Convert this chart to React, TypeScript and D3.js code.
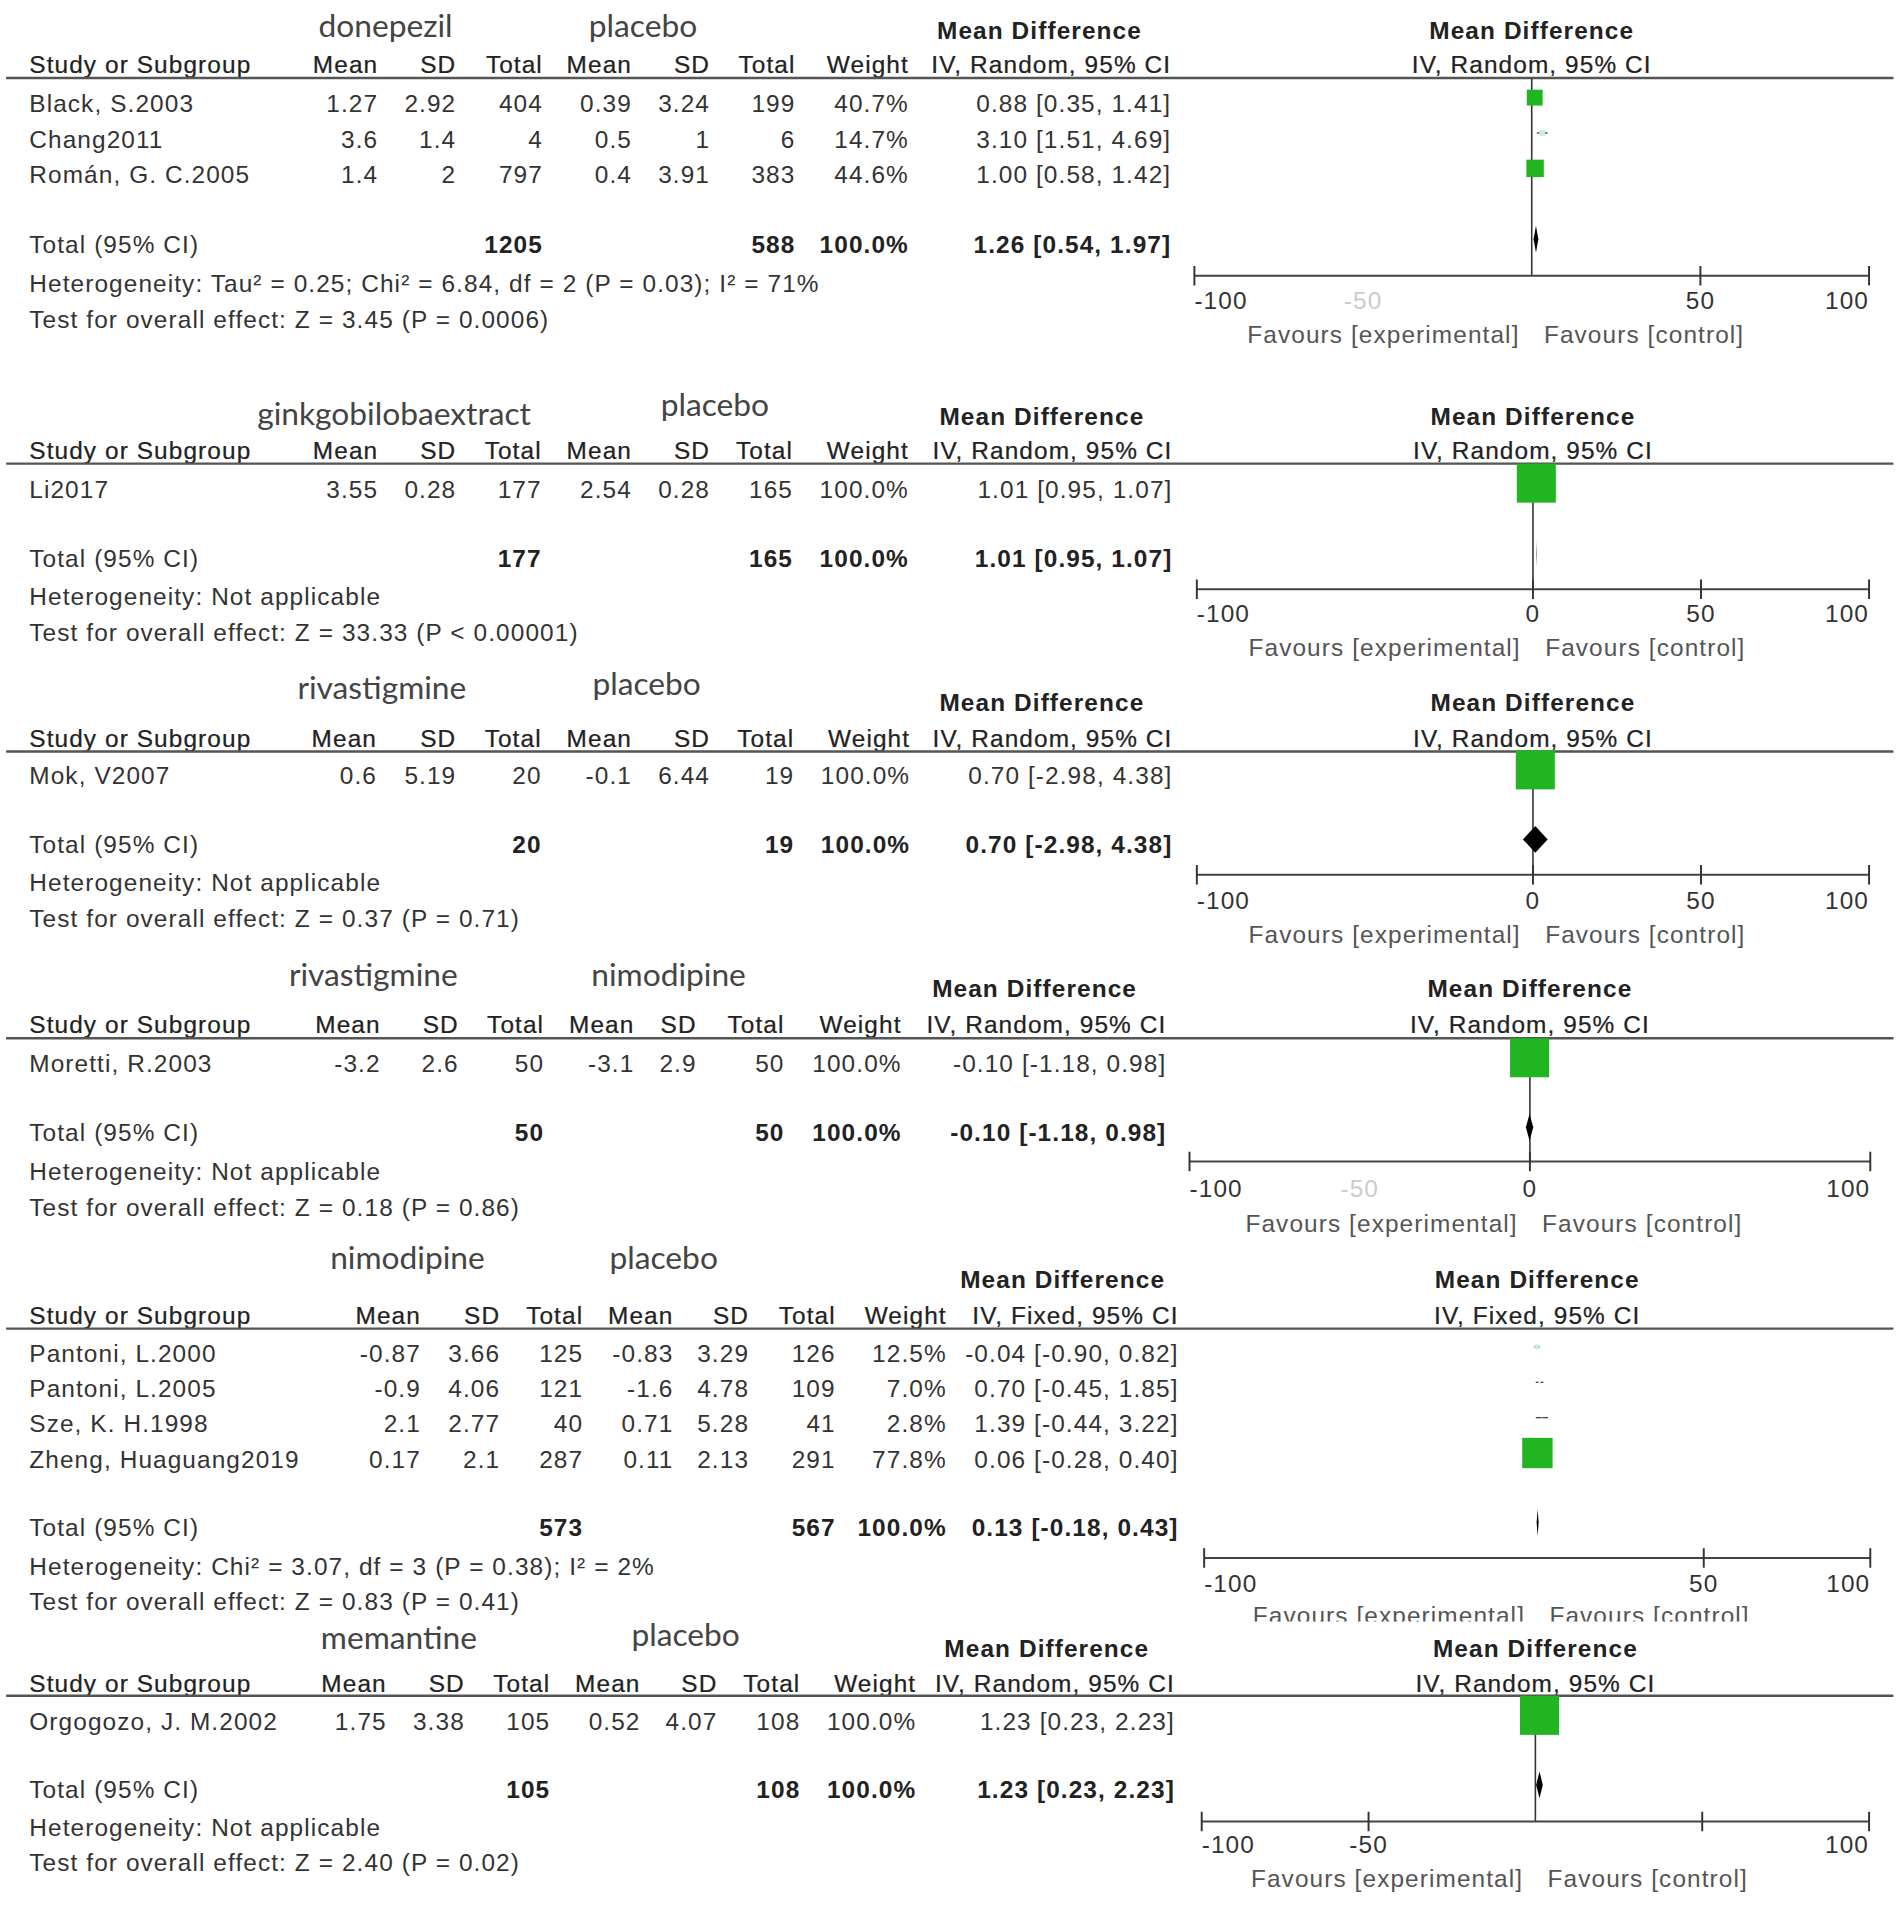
import React from "react";
import * as d3 from "d3";

// ---------- data ----------
const groupNames = [
  ["donepezil", "placebo"],
  ["ginkgobilobaextract", "placebo"],
  ["rivastigmine", "placebo"],
  ["rivastigmine", "nimodipine"],
  ["nimodipine", "placebo"],
  ["memantine", "placebo"],
];
const methods = [
  "IV, Random, 95% CI",
  "IV, Random, 95% CI",
  "IV, Random, 95% CI",
  "IV, Random, 95% CI",
  "IV, Fixed, 95% CI",
  "IV, Random, 95% CI",
];
const colHeaders = ["Mean", "SD", "Total", "Mean", "SD", "Total", "Weight"];

const studies = [
  ["Black, S.2003", "Chang2011", "Román, G. C.2005"],
  ["Li2017"],
  ["Mok, V2007"],
  ["Moretti, R.2003"],
  ["Pantoni, L.2000", "Pantoni, L.2005", "Sze, K. H.1998", "Zheng, Huaguang2019"],
  ["Orgogozo, J. M.2002"],
];
// mean, sd, total (experimental) | mean, sd, total (control)
const cells = [
  [
    ["1.27", "2.92", "404", "0.39", "3.24", "199"],
    ["3.6", "1.4", "4", "0.5", "1", "6"],
    ["1.4", "2", "797", "0.4", "3.91", "383"],
  ],
  [["3.55", "0.28", "177", "2.54", "0.28", "165"]],
  [["0.6", "5.19", "20", "-0.1", "6.44", "19"]],
  [["-3.2", "2.6", "50", "-3.1", "2.9", "50"]],
  [
    ["-0.87", "3.66", "125", "-0.83", "3.29", "126"],
    ["-0.9", "4.06", "121", "-1.6", "4.78", "109"],
    ["2.1", "2.77", "40", "0.71", "5.28", "41"],
    ["0.17", "2.1", "287", "0.11", "2.13", "291"],
  ],
  [["1.75", "3.38", "105", "0.52", "4.07", "108"]],
];
const weights = [[40.7, 14.7, 44.6], [100], [100], [100], [12.5, 7.0, 2.8, 77.8], [100]];
// mean difference, lower, upper
const effects = [
  [[0.88, 0.35, 1.41], [3.1, 1.51, 4.69], [1.0, 0.58, 1.42]],
  [[1.01, 0.95, 1.07]],
  [[0.7, -2.98, 4.38]],
  [[-0.1, -1.18, 0.98]],
  [[-0.04, -0.9, 0.82], [0.7, -0.45, 1.85], [1.39, -0.44, 3.22], [0.06, -0.28, 0.4]],
  [[1.23, 0.23, 2.23]],
];
const totalN = [["1205", "588"], ["177", "165"], ["20", "19"], ["50", "50"], ["573", "567"], ["105", "108"]];
const totalEffects = [
  [1.26, 0.54, 1.97],
  [1.01, 0.95, 1.07],
  [0.7, -2.98, 4.38],
  [-0.1, -1.18, 0.98],
  [0.13, -0.18, 0.43],
  [1.23, 0.23, 2.23],
];
const heterogeneity = [
  "Heterogeneity: Tau² = 0.25; Chi² = 6.84, df = 2 (P = 0.03); I² = 71%",
  "Heterogeneity: Not applicable",
  "Heterogeneity: Not applicable",
  "Heterogeneity: Not applicable",
  "Heterogeneity: Chi² = 3.07, df = 3 (P = 0.38); I² = 2%",
  "Heterogeneity: Not applicable",
];
const overallTest = [
  "Test for overall effect: Z = 3.45 (P = 0.0006)",
  "Test for overall effect: Z = 33.33 (P < 0.00001)",
  "Test for overall effect: Z = 0.37 (P = 0.71)",
  "Test for overall effect: Z = 0.18 (P = 0.86)",
  "Test for overall effect: Z = 0.83 (P = 0.41)",
  "Test for overall effect: Z = 2.40 (P = 0.02)",
];
const axisDomain = [-100, 100];
const tickMarks = [[-100, 50, 100], [-100, 0, 50, 100], [-100, 0, 50, 100], [-100, 0, 100], [-100, 50, 100], [-100, -50, 50, 100]];
const tickLabels = [[-100, 50, 100], [-100, 0, 50, 100], [-100, 0, 50, 100], [-100, 0, 100], [-100, 50, 100], [-100, -50, 100]];
const fadedLabels = [[-50], [], [], [-50], [], []];
const showZeroLine = [true, true, true, true, false, true];

// ---------- layout (in 1559x1568 picture units) ----------
const layouts = [
  { g1: [316, 30], g2: [527, 30], md: [852, 32], colY: 60, lineY: 64, rowY: [92, 121, 150], totalY: 207, hetY: 239, testY: 269, axisY: 226, range: [979, 1532], labelY: 253, favY: 281, cols: [310, 374, 445, 518, 582, 652, 745, 960] },
  { g1: [323, 348], g2: [586, 341], md: [854, 348], colY: 376, lineY: 380, rowY: [408], totalY: 465, hetY: 496, testY: 525, axisY: 483, range: [981, 1532], labelY: 510, favY: 538, cols: [310, 374, 444, 518, 582, 650, 745, 961] },
  { g1: [313, 573], g2: [530, 570], md: [854, 583], colY: 612, lineY: 616, rowY: [643], totalY: 699, hetY: 730, testY: 760, axisY: 717, range: [981, 1532], labelY: 745, favY: 773, cols: [309, 374, 444, 518, 582, 651, 746, 961] },
  { g1: [306, 808], g2: [548, 808], md: [848, 817], colY: 847, lineY: 851, rowY: [879], totalY: 935, hetY: 967, testY: 997, axisY: 952, range: [975, 1533], labelY: 981, favY: 1010, cols: [312, 376, 446, 520, 571, 643, 739, 956] },
  { g1: [334, 1040], g2: [544, 1040], md: [871, 1056], colY: 1085, lineY: 1089, rowY: [1116, 1145, 1174, 1203], totalY: 1259, hetY: 1291, testY: 1320, axisY: 1277, range: [987, 1533], labelY: 1305, favY: 1331, cols: [345, 410, 478, 552, 614, 685, 776, 966] },
  { g1: [327, 1352], g2: [562, 1349], md: [858, 1358], colY: 1387, lineY: 1390, rowY: [1418], totalY: 1474, hetY: 1505, testY: 1534, axisY: 1493, range: [985, 1532], labelY: 1519, favY: 1547, cols: [317, 381, 451, 525, 588, 656, 751, 963] },
];

const tableFont = "'Liberation Sans', Arial, sans-serif";
const groupFont = "Lato, 'Open Sans', sans-serif";
const green = "#22b522";
const fmtCI = (e: number[]) => `${e[0].toFixed(2)} [${e[1].toFixed(2)}, ${e[2].toFixed(2)}]`;

function Panel({ i }: { i: number }) {
  const L = layouts[i];
  const x = d3.scaleLinear().domain(axisDomain).range(L.range);
  const txt = { fontFamily: tableFont, fontSize: 20, letterSpacing: 0.9, fill: "#333" } as any;
  const head = { ...txt, fill: "#222", stroke: "#222", strokeWidth: 0.2 };
  const bold = { ...txt, fill: "#222", fontWeight: "bold" };
  const grp = { fontFamily: groupFont, fontSize: 26, fill: "#444", textAnchor: "middle" } as any;
  const t = totalEffects[i];
  const diamondH = 11;
  const anchorFor = (v: number) => (v === axisDomain[0] ? "start" : v === axisDomain[1] ? "end" : "middle");
  return (
    <g>
      {/* group headers */}
      <text x={L.g1[0]} y={L.g1[1]} style={grp}>{groupNames[i][0]}</text>
      <text x={L.g2[0]} y={L.g2[1]} style={grp}>{groupNames[i][1]}</text>
      <text x={L.md[0]} y={L.md[1]} textAnchor="middle" style={bold}>Mean Difference</text>
      <text x={x(0)} y={L.md[1]} textAnchor="middle" style={bold}>Mean Difference</text>

      {/* column headers */}
      <text x={24} y={L.colY} style={head}>Study or Subgroup</text>
      {colHeaders.map((h, k) => (
        <text key={k} x={L.cols[k]} y={L.colY} textAnchor="end" style={head}>{h}</text>
      ))}
      <text x={L.cols[7]} y={L.colY} textAnchor="end" style={head}>{methods[i]}</text>
      <text x={x(0)} y={L.colY} textAnchor="middle" style={head}>{methods[i]}</text>
      <line x1={5} x2={1552} y1={L.lineY} y2={L.lineY} stroke="#555" strokeWidth={2} />

      {/* zero line */}
      {showZeroLine[i] && (
        <line x1={x(0)} x2={x(0)} y1={L.lineY} y2={L.axisY} stroke="#333" strokeWidth={1.3} />
      )}

      {/* study rows */}
      {studies[i].map((s, r) => {
        const y = L.rowY[r];
        const e = effects[i][r];
        const w = weights[i][r];
        const side = 32 * w / 100;
        return (
          <g key={r}>
            <text x={24} y={y} style={txt}>{s}</text>
            {cells[i][r].map((c, k) => (
              <text key={k} x={L.cols[k]} y={y} textAnchor="end" style={txt}>{c}</text>
            ))}
            <text x={L.cols[6]} y={y} textAnchor="end" style={txt}>{w.toFixed(1) + "%"}</text>
            <text x={L.cols[7]} y={y} textAnchor="end" style={txt}>{fmtCI(e)}</text>
            <line x1={x(e[1])} x2={x(e[2])} y1={y - 12} y2={y - 12} stroke="#333" strokeWidth={1} />
            <rect x={x(e[0]) - side / 2} y={y - 12 - side / 2} width={side} height={side}
              fill={w < 20 ? "#c8f0d8" : green} />
          </g>
        );
      })}

      {/* total row */}
      <text x={24} y={L.totalY} style={txt}>Total (95% CI)</text>
      <text x={L.cols[2]} y={L.totalY} textAnchor="end" style={bold}>{totalN[i][0]}</text>
      <text x={L.cols[5]} y={L.totalY} textAnchor="end" style={bold}>{totalN[i][1]}</text>
      <text x={L.cols[6]} y={L.totalY} textAnchor="end" style={bold}>100.0%</text>
      <text x={L.cols[7]} y={L.totalY} textAnchor="end" style={bold}>{fmtCI(t)}</text>
      <polygon
        points={[
          [x(t[1]), L.totalY - 11],
          [x(t[0]), L.totalY - 11 - diamondH],
          [x(t[2]), L.totalY - 11],
          [x(t[0]), L.totalY - 11 + diamondH],
        ].map((p) => p.join(",")).join(" ")}
        fill="#000"
      />
      <text x={24} y={L.hetY} style={txt}>{heterogeneity[i]}</text>
      <text x={24} y={L.testY} style={txt}>{overallTest[i]}</text>

      {/* axis */}
      <line x1={x(axisDomain[0])} x2={x(axisDomain[1])} y1={L.axisY} y2={L.axisY} stroke="#444" strokeWidth={1.6} />
      {tickMarks[i].map((v) => (
        <line key={v} x1={x(v)} x2={x(v)} y1={L.axisY - 8} y2={L.axisY + 8} stroke="#333" strokeWidth={1.6} />
      ))}
      {tickLabels[i].map((v) => (
        <text key={v} x={x(v)} y={L.labelY} textAnchor={anchorFor(v)} style={txt}>{v}</text>
      ))}
      {fadedLabels[i].map((v) => (
        <text key={v} x={x(v)} y={L.labelY} textAnchor="middle" style={{ ...txt, fill: "#ccc" }}>{v}</text>
      ))}
      <g clipPath={i === 4 ? "url(#cut5)" : undefined}>
        <text x={x(0) - 10} y={L.favY} textAnchor="end" style={{ ...txt, fill: "#555" }}>Favours [experimental]</text>
        <text x={x(0) + 10} y={L.favY} textAnchor="start" style={{ ...txt, fill: "#555" }}>Favours [control]</text>
      </g>
    </g>
  );
}

export default function App() {
  return (
    <svg
      width={1902}
      height={1913}
      viewBox="0 0 1559 1568"
      style={{ position: "absolute", left: 0, top: 0, background: "#fff" }}
    >
      <defs>
        <clipPath id="cut5">
          <rect x={900} y={1300} width={700} height={29} />
        </clipPath>
      </defs>
      <rect x={0} y={0} width={1559} height={1568} fill="#fff" />
      {layouts.map((_, i) => (
        <Panel key={i} i={i} />
      ))}
    </svg>
  );
}
